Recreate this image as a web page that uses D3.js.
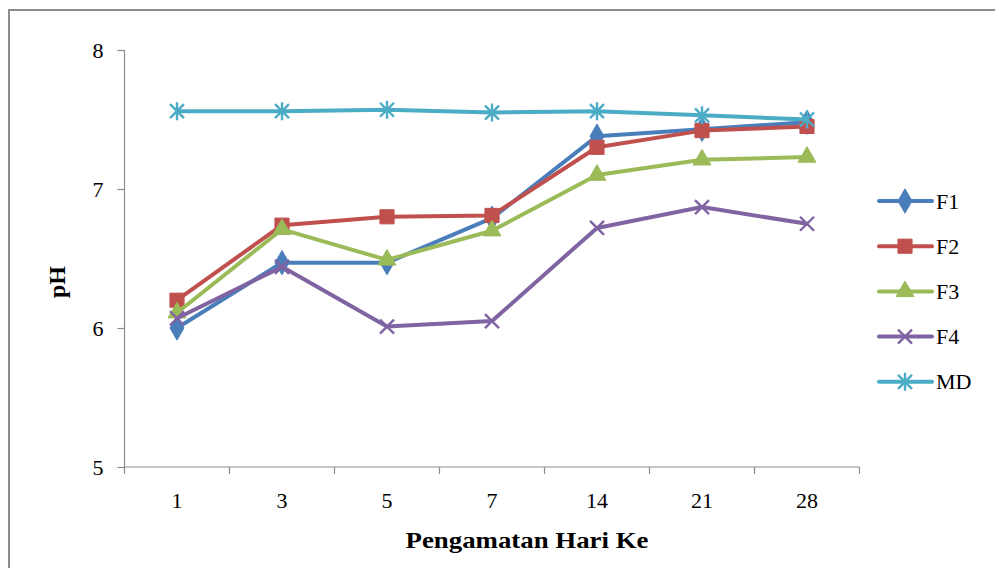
<!DOCTYPE html>
<html>
<head>
<meta charset="utf-8">
<script src="https://cdn.jsdelivr.net/npm/d3@7"></script>
<style>
  html, body { margin: 0; padding: 0; background: #fff; }
  svg { display: block; }
</style>
</head>
<body>
<svg id="chart" width="995" height="568"></svg>
<script>
// Observation days (category axis)
const days = ["1", "3", "5", "7", "14", "21", "28"];

// pH per formula
const f1 = [6.00, 6.47, 6.47, 6.79, 7.38, 7.43, 7.48];
const f2 = [6.20, 6.74, 6.80, 6.81, 7.30, 7.42, 7.45];
const f3 = [6.11, 6.71, 6.49, 6.70, 7.10, 7.21, 7.23];
const f4 = [6.07, 6.44, 6.01, 6.05, 6.72, 6.87, 6.75];
const md = [7.56, 7.56, 7.57, 7.55, 7.56, 7.53, 7.50];

const seriesNames = ["F1", "F2", "F3", "F4", "MD"];
const seriesColors = ["#4A7EBB", "#C0504D", "#9BBB59", "#8064A2", "#4BACC6"];
const seriesMarkers = ["diamond", "square", "triangle", "cross", "star"];
const yTicks = [5, 6, 7, 8];

const FONT = "'Liberation Serif', 'Times New Roman', Times, serif";

const series = [f1, f2, f3, f4, md].map((vals, i) => ({
  name: seriesNames[i], color: seriesColors[i], marker: seriesMarkers[i], values: vals
}));

const svg = d3.select("#chart");

// outer chart frame
svg.append("path")
  .attr("d", "M9,568 L9,10 L995,10")
  .attr("fill", "none").attr("stroke", "#8c8c8c").attr("stroke-width", 2);

const plot = { left: 124.5, right: 859.5, top: 50, bottom: 467 };

const x = d3.scaleBand().domain(days).range([plot.left, plot.right]);
const y = d3.scaleLinear().domain([5, 8]).range([plot.bottom, plot.top]);

// y axis
const yAxis = svg.append("g")
  .attr("transform", `translate(${plot.left},0)`)
  .call(d3.axisLeft(y).tickValues(yTicks).tickSize(7).tickPadding(14).tickFormat(d3.format("d")));
yAxis.attr("font-family", FONT).attr("font-size", 22);
yAxis.select(".domain").attr("stroke", "#8c8c8c").attr("stroke-width", 1.2).attr("d", `M0,${plot.top}V${plot.bottom}`);
yAxis.selectAll(".tick line").attr("stroke", "#8c8c8c").attr("stroke-width", 1.2);
yAxis.selectAll(".tick text").attr("fill", "#000").attr("dy", "0.33em");

// x axis
const xAxis = svg.append("g")
  .attr("transform", `translate(0,${plot.bottom})`)
  .call(d3.axisBottom(x).tickSize(0).tickPadding(25));
xAxis.attr("font-family", FONT).attr("font-size", 22);
xAxis.select(".domain").attr("stroke", "#8c8c8c").attr("stroke-width", 1.2).attr("d", `M${plot.left},0H${plot.right}`);
xAxis.selectAll(".tick text").attr("fill", "#000");
// category separators
const bounds = days.map(d => x(d)).concat([plot.right]);
xAxis.selectAll(".sep").data(bounds).enter().append("line")
  .attr("class", "sep")
  .attr("x1", d => d).attr("x2", d => d).attr("y1", 0).attr("y2", 7)
  .attr("stroke", "#8c8c8c").attr("stroke-width", 1.2);

// axis titles
svg.append("text")
  .attr("x", 527).attr("y", 548)
  .attr("text-anchor", "middle")
  .attr("font-family", FONT)
  .attr("font-size", 24).attr("font-weight", "bold")
  .attr("textLength", 243).attr("lengthAdjust", "spacingAndGlyphs")
  .text("Pengamatan Hari Ke");

svg.append("text")
  .attr("transform", "translate(65,282) rotate(-90)")
  .attr("text-anchor", "middle")
  .attr("font-family", FONT)
  .attr("font-size", 24).attr("font-weight", "bold")
  .text("pH");

// marker shapes
function markerPath(type) {
  switch (type) {
    case "diamond": return d3.symbol(d3.symbolDiamond, 170)();
    case "square": return d3.symbol(d3.symbolSquare, 200)();
    case "triangle": return d3.symbol(d3.symbolTriangle, 140)();
    case "cross": return "M-7,-7L7,7M-7,7L7,-7";
    case "star": return "M-7,-7L7,7M-7,7L7,-7M0,-9V9";
  }
}
function drawMarker(g, type, color, cx, cy) {
  const p = g.append("path").attr("d", markerPath(type)).attr("transform", `translate(${cx},${cy})`);
  if (type === "cross" || type === "star") {
    p.attr("fill", "none").attr("stroke", color).attr("stroke-width", 2.4);
  } else {
    p.attr("fill", color).attr("stroke", color).attr("stroke-width", 1);
  }
}

const line = d3.line()
  .x((d, i) => x(days[i]) + x.bandwidth() / 2)
  .y(d => y(d));

series.forEach(s => {
  const g = svg.append("g");
  g.append("path")
    .attr("d", line(s.values))
    .attr("fill", "none").attr("stroke", s.color)
    .attr("stroke-width", 4).attr("stroke-linejoin", "round").attr("stroke-linecap", "round");
  s.values.forEach((v, i) => {
    drawMarker(g, s.marker, s.color, x(days[i]) + x.bandwidth() / 2, y(v));
  });
});

// legend
const legend = svg.append("g");
series.forEach((s, i) => {
  const ly = 201 + i * 45.2;
  const g = legend.append("g");
  g.append("line").attr("x1", 879).attr("x2", 932).attr("y1", ly).attr("y2", ly)
    .attr("stroke", s.color).attr("stroke-width", 4).attr("stroke-linecap", "round");
  drawMarker(g, s.marker, s.color, 905, ly);
  g.append("text").attr("x", 936).attr("y", ly + 7.5)
    .attr("font-family", FONT).attr("font-size", 22).attr("fill", "#000")
    .text(s.name);
});
</script>
</body>
</html>
